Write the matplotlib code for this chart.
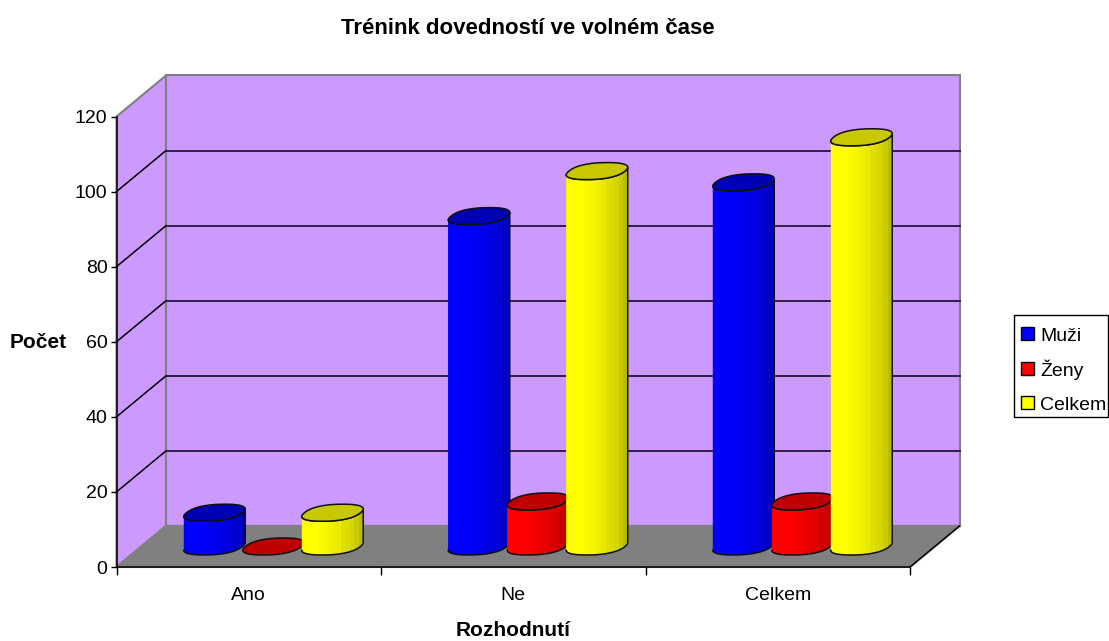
import matplotlib
matplotlib.use("Agg")
import matplotlib.pyplot as plt
import numpy as np
from matplotlib.patches import Rectangle

plt.rcParams["font.family"] = ["Liberation Sans", "DejaVu Sans"]

# data
categories = ["Ano", "Ne", "Celkem"]
series_names = ["Muži", "Ženy", "Celkem"]
muzi = [9, 88, 97]
zeny = [0, 12, 12]
celkem = [9, 100, 109]
y_ticks = [0, 20, 40, 60, 80, 100, 120]

# colours: side, top
colors = [(0, 0, 1), (1, 0, 0), (1, 1, 0)]
top_colors = ["#0000B4", "#C00000", "#C8C800"]
wall_color = "#CC99FF"
floor_color = "#808080"

W, H = 1109, 641
fig = plt.figure(figsize=(W / 100, H / 100), dpi=100)
ax = fig.add_axes([116.5 / W, (H - 567) / H, 793.5 / W, 450.5 / H])
ax.set_xlim(0, 3)
ax.set_ylim(0, 120)
ax.patch.set_alpha(0)

# oblique depth of the box, in data units
dx = 49.5 / 264.5
dy = 41 / 3.754
xmax, ymax = 3, 120

# walls and floor
edge = dict(edgecolor="#808080", linewidth=1.5, clip_on=False, zorder=1, joinstyle="miter")
ax.fill([0, 0, dx, dx], [0, ymax, ymax + dy, dy], facecolor=wall_color, **edge)
ax.fill([dx, dx, xmax + dx, xmax + dx], [dy, ymax + dy, ymax + dy, dy], facecolor=wall_color, **edge)
ax.fill([0, dx, xmax + dx, xmax], [0, dy, dy, 0], facecolor=floor_color, **edge)
ax.plot([xmax, xmax + dx], [0, dy], color="black", lw=1.1, clip_on=False, zorder=2)

# gridlines on back and left wall
for v in y_ticks[1:-1]:
    ax.plot([0, dx], [v, v + dy], color="black", lw=1.1, clip_on=False, zorder=2)
    ax.plot([dx, xmax + dx], [v + dy, v + dy], color="#24143C", lw=1.3, clip_on=False, zorder=2)

# side shading, left to right
shades = [1, 1, 1, 1, 0.98, 0.97, 0.95, 0.93, 0.91, 0.88, 0.86, 0.83, 0.79, 0.73]
seam_at = (3, 8, 10, 12)


def draw_cylinder(xc, value, color, top_color, zorder):
    # base centre sits half way into the floor
    x0 = xc + dx / 2
    y0 = dy / 2
    rx = 28 / 264.5
    ddx = 10.3 / 264.5
    ddy = 8.5 / 3.754

    def ring(t, level):
        c = np.cos(t)
        s = np.sin(t)
        # squared off a little, the original is a coarse polygon
        c2 = np.sign(c) * np.abs(c) ** 0.85
        s2 = np.sign(s) * np.abs(s) ** 0.85
        return x0 + rx * c2 + ddx * s2, y0 + level + ddy * s2

    # right-most point of the ring
    fine = np.linspace(0, np.pi, 400)
    t0 = fine[np.argmax(ring(fine, 0)[0])]
    t_front = np.linspace(t0 + np.pi, t0 + 2 * np.pi, 120)
    t_back = np.linspace(t0, t0 + np.pi, 120)

    xf_b, yf_b = ring(t_front, 0)
    xf_t, yf_t = ring(t_front, value)
    xb_t, yb_t = ring(t_back, value)

    if value > 0:
        body_x = np.concatenate([xf_b, xf_t[::-1]])
        body_y = np.concatenate([yf_b, yf_t[::-1]])
        body = ax.fill(body_x, body_y, facecolor=tuple(c * 0.9 for c in color), edgecolor="none",
                       clip_on=False, zorder=zorder)[0]
        # vertical strips of even width, clipped to the body
        edges = np.linspace(xf_b[0], xf_b[-1], len(shades) + 1)
        for i, s in enumerate(shades):
            strip = ax.fill([edges[i], edges[i + 1], edges[i + 1], edges[i]],
                            [0, 0, value + dy, value + dy],
                            facecolor=tuple(c * s for c in color), edgecolor="none",
                            clip_on=True, zorder=zorder)[0]
            strip.set_clip_path(body)
            if i in seam_at:
                seam = tuple(min(1, c * s * 0.85 + 0.2) for c in color)
                line = ax.plot([edges[i + 1], edges[i + 1]], [0, value + dy], color=seam, lw=0.8,
                               zorder=zorder)[0]
                line.set_clip_path(body)
        ax.plot(body_x, body_y, color="#101010", lw=1.1, clip_on=False, zorder=zorder)

    ax.fill(np.concatenate([xb_t, xf_t]), np.concatenate([yb_t, yf_t]),
            facecolor=top_color, edgecolor="#101010", linewidth=1.1,
            clip_on=False, zorder=zorder)


offsets = [-0.223, 0, 0.223]
all_series = [muzi, zeny, celkem]
z = 3
for c in range(len(categories)):
    for s in range(len(all_series)):
        draw_cylinder(c + 0.5 + offsets[s], all_series[s][c], colors[s], top_colors[s], z)
        z += 1

# axes
ax.spines["top"].set_visible(False)
ax.spines["right"].set_visible(False)
for sp in ["left", "bottom"]:
    ax.spines[sp].set_linewidth(1.1)
    ax.spines[sp].set_zorder(2)
ax.set_yticks(y_ticks)
ax.set_xticks([0, 1, 2, 3])
ax.set_xticklabels([])
ax.set_xticks([0.5, 1.5, 2.5], minor=True)
ax.set_xticklabels(categories, minor=True, fontsize=14)
ax.tick_params(axis="x", which="minor", length=0, pad=14.5)
ax.tick_params(axis="x", which="major", length=5.5, width=1)
ax.tick_params(axis="y", length=4.5, width=1, labelsize=14, pad=2)

fig.text(528 / W, 1 - 29 / H, "Trénink dovedností ve volném čase", fontsize=16, fontweight="bold",
         ha="center", va="center")
fig.text(38 / W, 1 - 342 / H, "Počet", fontsize=15, fontweight="bold", ha="center", va="center")
fig.text(513 / W, 1 - 631 / H, "Rozhodnutí", fontsize=15, fontweight="bold", ha="center", va="center")

# legend box placed by hand, the rows are evenly spaced in the original
fig.add_artist(Rectangle((1013.5 / W, 1 - 417 / H), 94.5 / W, 102 / H, transform=fig.transFigure,
                         facecolor="white", edgecolor="black", linewidth=1))
row_tops = [326.5, 362, 396]
row_base = [341, 376, 410]
for i in range(len(series_names)):
    fig.add_artist(Rectangle((1020.5 / W, 1 - (row_tops[i] + 13) / H), 13 / W, 13 / H,
                             transform=fig.transFigure, facecolor=colors[i], edgecolor="black",
                             linewidth=1))
    fig.text(1040 / W, 1 - row_base[i] / H, series_names[i], fontsize=14, ha="left", va="baseline")

fig.savefig("out.png", dpi=100)
